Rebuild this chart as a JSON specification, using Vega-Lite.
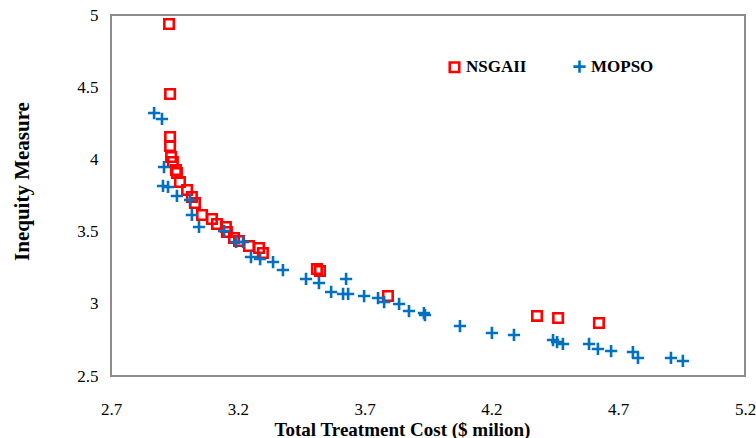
{
  "$schema": "https://vega.github.io/schema/vega-lite/v6.json",
  "width": 634,
  "height": 361,
  "autosize": {"type": "none"},
  "padding": {"left": 111, "top": 15, "right": 11, "bottom": 62},
  "background": "white",
  "config": {
    "view": {"stroke": "#8c8c8c", "strokeWidth": 2},
    "font": "Liberation Serif"
  },
  "data": {
    "values": [
      {"alg": "NSGAII", "cost": 2.929, "ineq": 4.938},
      {"alg": "NSGAII", "cost": 2.933, "ineq": 4.453},
      {"alg": "NSGAII", "cost": 2.933, "ineq": 4.155},
      {"alg": "NSGAII", "cost": 2.933, "ineq": 4.093},
      {"alg": "NSGAII", "cost": 2.937, "ineq": 4.017},
      {"alg": "NSGAII", "cost": 2.944, "ineq": 3.982},
      {"alg": "NSGAII", "cost": 2.956, "ineq": 3.927},
      {"alg": "NSGAII", "cost": 2.960, "ineq": 3.906},
      {"alg": "NSGAII", "cost": 2.972, "ineq": 3.843},
      {"alg": "NSGAII", "cost": 3.000, "ineq": 3.788},
      {"alg": "NSGAII", "cost": 3.019, "ineq": 3.740},
      {"alg": "NSGAII", "cost": 3.031, "ineq": 3.698},
      {"alg": "NSGAII", "cost": 3.059, "ineq": 3.615},
      {"alg": "NSGAII", "cost": 3.098, "ineq": 3.587},
      {"alg": "NSGAII", "cost": 3.118, "ineq": 3.553},
      {"alg": "NSGAII", "cost": 3.153, "ineq": 3.532},
      {"alg": "NSGAII", "cost": 3.157, "ineq": 3.497},
      {"alg": "NSGAII", "cost": 3.185, "ineq": 3.456},
      {"alg": "NSGAII", "cost": 3.205, "ineq": 3.435},
      {"alg": "NSGAII", "cost": 3.244, "ineq": 3.400},
      {"alg": "NSGAII", "cost": 3.284, "ineq": 3.386},
      {"alg": "NSGAII", "cost": 3.299, "ineq": 3.352},
      {"alg": "NSGAII", "cost": 3.512, "ineq": 3.241},
      {"alg": "NSGAII", "cost": 3.524, "ineq": 3.227},
      {"alg": "NSGAII", "cost": 3.792, "ineq": 3.054},
      {"alg": "NSGAII", "cost": 4.380, "ineq": 2.916},
      {"alg": "NSGAII", "cost": 4.463, "ineq": 2.902},
      {"alg": "NSGAII", "cost": 4.624, "ineq": 2.867},
      {"alg": "MOPSO", "cost": 2.870, "ineq": 4.321},
      {"alg": "MOPSO", "cost": 2.901, "ineq": 4.280},
      {"alg": "MOPSO", "cost": 2.909, "ineq": 3.947},
      {"alg": "MOPSO", "cost": 2.905, "ineq": 3.816},
      {"alg": "MOPSO", "cost": 2.925, "ineq": 3.809},
      {"alg": "MOPSO", "cost": 2.960, "ineq": 3.747},
      {"alg": "MOPSO", "cost": 3.012, "ineq": 3.719},
      {"alg": "MOPSO", "cost": 3.019, "ineq": 3.615},
      {"alg": "MOPSO", "cost": 3.047, "ineq": 3.532},
      {"alg": "MOPSO", "cost": 3.146, "ineq": 3.504},
      {"alg": "MOPSO", "cost": 3.193, "ineq": 3.428},
      {"alg": "MOPSO", "cost": 3.221, "ineq": 3.428},
      {"alg": "MOPSO", "cost": 3.252, "ineq": 3.324},
      {"alg": "MOPSO", "cost": 3.288, "ineq": 3.310},
      {"alg": "MOPSO", "cost": 3.339, "ineq": 3.289},
      {"alg": "MOPSO", "cost": 3.378, "ineq": 3.234},
      {"alg": "MOPSO", "cost": 3.469, "ineq": 3.172},
      {"alg": "MOPSO", "cost": 3.520, "ineq": 3.144},
      {"alg": "MOPSO", "cost": 3.568, "ineq": 3.082},
      {"alg": "MOPSO", "cost": 3.627, "ineq": 3.172},
      {"alg": "MOPSO", "cost": 3.615, "ineq": 3.068},
      {"alg": "MOPSO", "cost": 3.635, "ineq": 3.068},
      {"alg": "MOPSO", "cost": 3.698, "ineq": 3.054},
      {"alg": "MOPSO", "cost": 3.753, "ineq": 3.040},
      {"alg": "MOPSO", "cost": 3.777, "ineq": 3.012},
      {"alg": "MOPSO", "cost": 3.836, "ineq": 2.999},
      {"alg": "MOPSO", "cost": 3.875, "ineq": 2.950},
      {"alg": "MOPSO", "cost": 3.934, "ineq": 2.936},
      {"alg": "MOPSO", "cost": 3.938, "ineq": 2.922},
      {"alg": "MOPSO", "cost": 4.076, "ineq": 2.846},
      {"alg": "MOPSO", "cost": 4.202, "ineq": 2.798},
      {"alg": "MOPSO", "cost": 4.289, "ineq": 2.784},
      {"alg": "MOPSO", "cost": 4.443, "ineq": 2.749},
      {"alg": "MOPSO", "cost": 4.459, "ineq": 2.735},
      {"alg": "MOPSO", "cost": 4.482, "ineq": 2.722},
      {"alg": "MOPSO", "cost": 4.585, "ineq": 2.722},
      {"alg": "MOPSO", "cost": 4.620, "ineq": 2.687},
      {"alg": "MOPSO", "cost": 4.672, "ineq": 2.673},
      {"alg": "MOPSO", "cost": 4.758, "ineq": 2.666},
      {"alg": "MOPSO", "cost": 4.778, "ineq": 2.625},
      {"alg": "MOPSO", "cost": 4.908, "ineq": 2.625},
      {"alg": "MOPSO", "cost": 4.955, "ineq": 2.604}
    ]
  },
  "mark": {"type": "point", "filled": false, "opacity": 1, "strokeWidth": 2.6, "size": 100},
  "encoding": {
    "x": {
      "field": "cost", "type": "quantitative",
      "scale": {"domain": [2.7, 5.2], "nice": false, "zero": false},
      "axis": {
        "title": "Total Treatment Cost ($ milion)",
        "values": [2.7, 3.2, 3.7, 4.2, 4.7, 5.2],
        "format": ".1f",
        "grid": false, "ticks": false, "domain": false,
        "labelFont": "Liberation Serif", "labelFontSize": 17, "labelColor": "black",
        "labelPadding": 25, "labelFlush": false, "labelBound": false, "labelOverlap": false,
        "titleFont": "Liberation Serif", "titleFontSize": 19, "titleFontWeight": "bold", "titleColor": "black",
        "titleX": 291, "titleY": 59, "titleBaseline": "alphabetic", "titleAlign": "center"
      }
    },
    "y": {
      "field": "ineq", "type": "quantitative",
      "scale": {"domain": [2.5, 5], "nice": false, "zero": false},
      "axis": {
        "title": "Inequity Measure",
        "values": [2.5, 3, 3.5, 4, 4.5, 5],
        "format": "~g",
        "grid": false, "ticks": false, "domain": false,
        "labelFont": "Liberation Serif", "labelFontSize": 17, "labelColor": "black",
        "labelPadding": 13, "labelFlush": false, "labelBound": false, "labelOverlap": false,
        "titleFont": "Liberation Serif", "titleFontSize": 21, "titleFontWeight": "bold", "titleColor": "black",
        "titleX": -89, "titleY": 166, "titleAngle": -90, "titleBaseline": "middle", "titleAlign": "center"
      }
    },
    "color": {
      "field": "alg", "type": "nominal",
      "scale": {"domain": ["NSGAII", "MOPSO"], "range": ["#FF0000", "#0070C0"]},
      "legend": {
        "title": null,
        "orient": "none",
        "legendX": 335,
        "legendY": 43,
        "direction": "horizontal",
        "columns": 2,
        "columnPadding": 41,
        "labelFont": "Liberation Serif",
        "labelFontSize": 17,
        "labelFontWeight": "bold",
        "labelColor": "black",
        "labelOffset": 3,
        "symbolSize": 110,
        "symbolStrokeWidth": 2.6
      }
    },
    "shape": {
      "field": "alg", "type": "nominal",
      "scale": {"domain": ["NSGAII", "MOPSO"], "range": ["square", "M-1,0H1M0,-1V1"]},
      "legend": {
        "title": null,
        "orient": "none",
        "legendX": 335,
        "legendY": 43,
        "direction": "horizontal",
        "columns": 2,
        "columnPadding": 41,
        "labelFont": "Liberation Serif",
        "labelFontSize": 17,
        "labelFontWeight": "bold",
        "labelColor": "black",
        "labelOffset": 3,
        "symbolSize": 110,
        "symbolStrokeWidth": 2.6
      }
    },
    "size": {
      "field": "alg", "type": "nominal",
      "scale": {"domain": ["NSGAII", "MOPSO"], "range": [90, 150]},
      "legend": null
    }
  }
}
